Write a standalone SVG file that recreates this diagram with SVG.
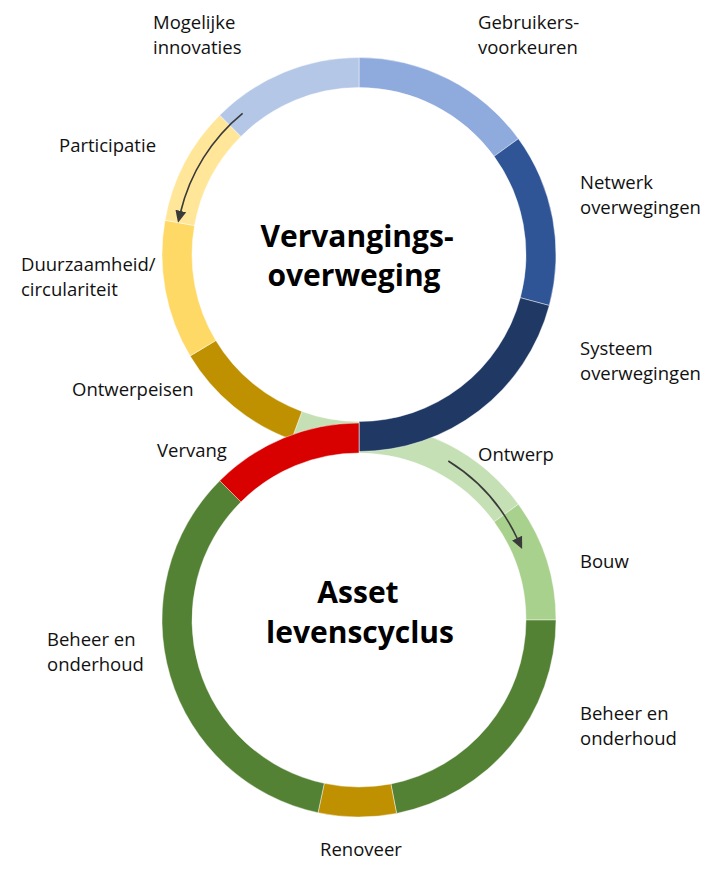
<svg xmlns="http://www.w3.org/2000/svg" width="717" height="869" viewBox="0 0 717 869">
<style>
.seg{stroke:#ffffff;stroke-opacity:0.55;stroke-width:0.8}
.lbl{font-family:"Open Sans","Noto Sans","Liberation Sans",sans-serif;font-size:18.5px;fill:#111}
.ttl{font-family:"Open Sans","Noto Sans","Liberation Sans",sans-serif;font-size:30px;font-weight:bold;fill:#000;text-anchor:middle}
.arr{fill:none;stroke:#3a3a3a;stroke-width:1.6}
</style>
<defs>
<marker id="ah" markerUnits="userSpaceOnUse" markerWidth="12" markerHeight="12" viewBox="0 0 12 12" refX="1" refY="6" orient="auto">
<path d="M0,0.5 L12,6 L0,11.5 Z" fill="#3a3a3a"/>
</marker>
</defs>
<rect width="717" height="869" fill="#ffffff"/>

<!-- bottom ring: Ontwerp (under top ring) -->
<g id="ontwerp">
<path class="seg" fill="#C5E0B4" d="M359,423 A197,197 0 0 1 518.38,504.21 L494.11,521.84 A167,167 0 0 0 359,453 Z"/>
<text class="lbl" x="478" y="461">Ontwerp</text>
</g>

<!-- top ring -->
<g id="gebruikersvoorkeuren">
<path class="seg" fill="#8FAADC" d="M359,57.5 A197,197 0 0 1 518.38,138.71 L494.11,156.34 A167,167 0 0 0 359,87.5 Z"/>
<text class="lbl" x="478" y="29">Gebruikers-</text>
<text class="lbl" x="478" y="54">voorkeuren</text>
</g>
<g id="netwerk">
<path class="seg" fill="#2F5597" d="M518.38,138.71 A197,197 0 0 1 549.29,305.49 L520.31,297.72 A167,167 0 0 0 494.11,156.34 Z"/>
<text class="lbl" x="580" y="189">Netwerk</text>
<text class="lbl" x="580" y="214">overwegingen</text>
</g>
<g id="systeem">
<path class="seg" fill="#203864" d="M549.29,305.49 A197,197 0 0 1 359,451.5 L359,421.5 A167,167 0 0 0 520.31,297.72 Z"/>
<text class="lbl" x="580" y="355">Systeem</text>
<text class="lbl" x="580" y="380">overwegingen</text>
</g>
<g id="overgang">
<path class="seg" fill="#C5E0B4" d="M359,451.5 A197,197 0 0 1 291.62,439.62 L301.88,411.43 A167,167 0 0 0 359,421.5 Z"/>
</g>
<g id="ontwerpeisen">
<path class="seg" fill="#BF9000" d="M291.62,439.62 A197,197 0 0 1 190.14,355.96 L215.85,340.51 A167,167 0 0 0 301.88,411.43 Z"/>
<text class="lbl" x="72" y="396">Ontwerpeisen</text>
</g>
<g id="duurzaamheid">
<path class="seg" fill="#FFD966" d="M190.14,355.96 A197,197 0 0 1 164.99,220.29 L194.54,225.50 A167,167 0 0 0 215.85,340.51 Z"/>
<text class="lbl" x="21" y="271">Duurzaamheid/</text>
<text class="lbl" x="21" y="296">circulariteit</text>
</g>
<g id="participatie">
<path class="seg" fill="#FFE699" d="M164.99,220.29 A197,197 0 0 1 219.70,115.20 L240.91,136.41 A167,167 0 0 0 194.54,225.50 Z"/>
<text class="lbl" x="59" y="152">Participatie</text>
</g>
<g id="mogelijke-innovaties">
<path class="seg" fill="#B4C7E7" d="M219.70,115.20 A197,197 0 0 1 359,57.5 L359,87.5 A167,167 0 0 0 240.91,136.41 Z"/>
<text class="lbl" x="153" y="29">Mogelijke</text>
<text class="lbl" x="153" y="54">innovaties</text>
</g>

<!-- bottom ring rest -->
<g id="bouw">
<path class="seg" fill="#A9D18E" d="M518.38,504.21 A197,197 0 0 1 556,620 L526,620 A167,167 0 0 0 494.11,521.84 Z"/>
<text class="lbl" x="580" y="568">Bouw</text>
</g>
<g id="beheer-rechts">
<path class="seg" fill="#548235" d="M556,620 A197,197 0 0 1 396.59,813.38 L390.87,783.93 A167,167 0 0 0 526,620 Z"/>
<text class="lbl" x="580" y="720">Beheer en</text>
<text class="lbl" x="580" y="745">onderhoud</text>
</g>
<g id="renoveer">
<path class="seg" fill="#BF9000" d="M396.59,813.38 A197,197 0 0 1 318.04,812.70 L324.28,783.35 A167,167 0 0 0 390.87,783.93 Z"/>
<text class="lbl" x="320" y="856">Renoveer</text>
</g>
<g id="beheer-links">
<path class="seg" fill="#548235" d="M318.04,812.70 A197,197 0 0 1 219.70,480.70 L240.91,501.91 A167,167 0 0 0 324.28,783.35 Z"/>
<text class="lbl" x="47" y="646">Beheer en</text>
<text class="lbl" x="47" y="671">onderhoud</text>
</g>
<g id="vervang">
<path class="seg" fill="#D90000" d="M219.70,480.70 A197,197 0 0 1 359,423 L359,453 A167,167 0 0 0 240.91,501.91 Z"/>
<text class="lbl" x="157" y="457">Vervang</text>
</g>

<!-- titles -->
<g id="titel-vervangingsoverweging">
<text class="ttl" x="357" y="247">Vervangings-</text>
<text class="ttl" x="354" y="286">overweging</text>
</g>
<g id="titel-asset-levenscyclus">
<text class="ttl" x="358" y="603">Asset</text>
<text class="ttl" x="360" y="643">levenscyclus</text>
</g>

<!-- connectors -->
<g id="connectors">
<path class="arr" d="M242.6,113.3 A183,183 0 0 0 180.6,212" marker-end="url(#ah)"/>
<path class="arr" d="M448.3,461 A182,182 0 0 1 517.5,539" marker-end="url(#ah)"/>
</g>
</svg>
